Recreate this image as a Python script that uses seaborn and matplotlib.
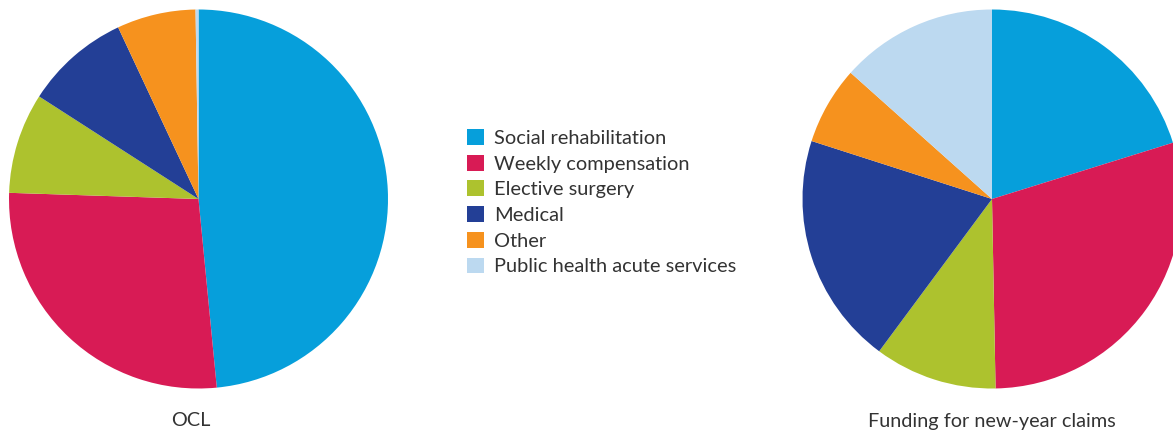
import matplotlib
matplotlib.use("Agg")
import matplotlib.pyplot as plt
from matplotlib.patches import Patch
import seaborn as sns

categories = [
    "Social rehabilitation",
    "Weekly compensation",
    "Elective surgery",
    "Medical",
    "Other",
    "Public health acute services",
]
ocl_share = [48.46, 27.06, 8.58, 8.93, 6.72, 0.25]
new_year_share = [20.2, 29.5, 10.45, 19.8, 6.65, 13.4]
pie_titles = ["OCL", "Funding for new-year claims"]

colors = ["#069fdb", "#d81b55", "#adc22e", "#233f96", "#f6921e", "#bcd9f0"]

sns.set_theme(style="white")
plt.rcParams["font.family"] = ["Lato", "DejaVu Sans"]
text_color = "#333333"

W, H = 1173, 432
fig = plt.figure(figsize=(W / 100, H / 100), dpi=100)


def pie_axes(cx, cy, r):
    # axes in pixel terms (origin top-left), converted to figure fractions
    return fig.add_axes([(cx - r) / W, (H - cy - r) / H, 2 * r / W, 2 * r / H])


ax1 = pie_axes(198.5, 199, 189.5)
ax2 = pie_axes(992, 199, 189.5)

for ax, vals in ((ax1, ocl_share), (ax2, new_year_share)):
    ax.pie(vals, colors=colors, startangle=90, counterclock=False,
           wedgeprops=dict(linewidth=0, antialiased=True), radius=1.0)
    ax.set_xlim(-1, 1)
    ax.set_ylim(-1, 1)
    ax.set_aspect("auto")
    ax.axis("off")

fig.text(191 / W, 1 - 421 / H, pie_titles[0], ha="center", va="center",
         fontsize=14.3, color=text_color)
fig.text(992 / W, 1 - 421 / H, pie_titles[1], ha="center", va="center",
         fontsize=14.3, color=text_color)

handles = [Patch(facecolor=c, edgecolor="none") for c in colors]
fig.legend(handles, categories, loc="upper left",
           bbox_to_anchor=(459 / W, 1 - 121 / H), frameon=False,
           fontsize=14.4, labelcolor=text_color,
           handlelength=0.85, handleheight=0.85, handletextpad=0.5,
           labelspacing=0.39, borderaxespad=0)

fig.savefig("out.png", dpi=100, facecolor="white")
